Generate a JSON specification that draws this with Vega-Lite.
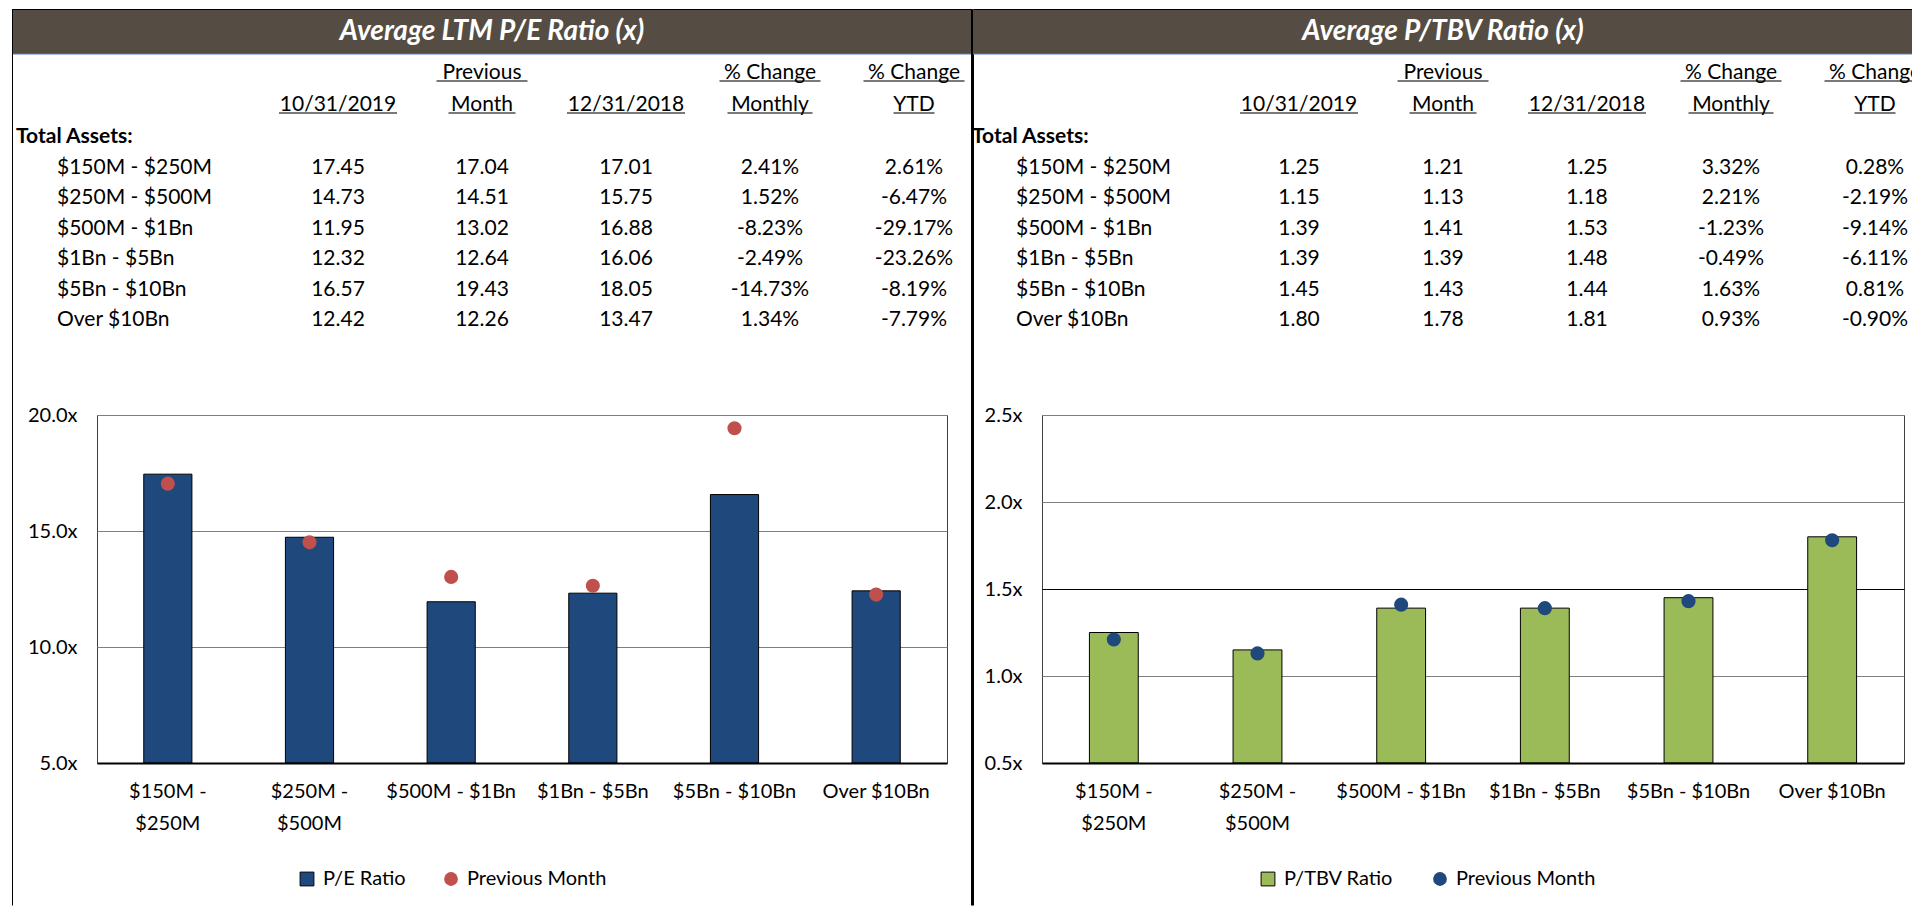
{
  "$schema": "https://vega.github.io/schema/vega-lite/v6.json",
  "padding": {"left": 9, "top": 9, "right": 0, "bottom": 0},
  "background": "white",
  "config": {
    "font": "Lato",
    "view": {"stroke": null},
    "text": {"fontSize": 21, "color": "black"},
    "axis": {"labelColor": "black", "labelFontSize": 20, "labelFont": "Lato"},
    "legend": {"labelFontSize": 20, "labelFont": "Lato", "labelColor": "black"},
    "locale": {"number": {"decimal": ".", "thousands": ",", "grouping": [3], "currency": ["$", ""], "minus": "-"}}
  },
  "datasets": {
    "pe": [
      {"cat": "$150M - $250M", "cur": 17.45, "prev": 17.04, "ye": 17.01, "mom": 0.0241, "ytd": 0.0261},
      {"cat": "$250M - $500M", "cur": 14.73, "prev": 14.51, "ye": 15.75, "mom": 0.0152, "ytd": -0.0647},
      {"cat": "$500M - $1Bn", "cur": 11.95, "prev": 13.02, "ye": 16.88, "mom": -0.0823, "ytd": -0.2917},
      {"cat": "$1Bn - $5Bn", "cur": 12.32, "prev": 12.64, "ye": 16.06, "mom": -0.0249, "ytd": -0.2326},
      {"cat": "$5Bn - $10Bn", "cur": 16.57, "prev": 19.43, "ye": 18.05, "mom": -0.1473, "ytd": -0.0819},
      {"cat": "Over $10Bn", "cur": 12.42, "prev": 12.26, "ye": 13.47, "mom": 0.0134, "ytd": -0.0779}
    ],
    "tbv": [
      {"cat": "$150M - $250M", "cur": 1.25, "prev": 1.21, "ye": 1.25, "mom": 0.0332, "ytd": 0.0028},
      {"cat": "$250M - $500M", "cur": 1.15, "prev": 1.13, "ye": 1.18, "mom": 0.0221, "ytd": -0.0219},
      {"cat": "$500M - $1Bn", "cur": 1.39, "prev": 1.41, "ye": 1.53, "mom": -0.0123, "ytd": -0.0914},
      {"cat": "$1Bn - $5Bn", "cur": 1.39, "prev": 1.39, "ye": 1.48, "mom": -0.0049, "ytd": -0.0611},
      {"cat": "$5Bn - $10Bn", "cur": 1.45, "prev": 1.43, "ye": 1.44, "mom": 0.0163, "ytd": 0.0081},
      {"cat": "Over $10Bn", "cur": 1.80, "prev": 1.78, "ye": 1.81, "mom": 0.0093, "ytd": -0.0090}
    ],
    "hdr": [
      {"col": "prev", "row": "h1", "t": "Previous"},
      {"col": "mom", "row": "h1", "t": "% Change"},
      {"col": "ytd", "row": "h1", "t": "% Change"},
      {"col": "cur", "row": "h2", "t": "10/31/2019"},
      {"col": "prev", "row": "h2", "t": "Month"},
      {"col": "ye", "row": "h2", "t": "12/31/2018"},
      {"col": "mom", "row": "h2", "t": "Monthly"},
      {"col": "ytd", "row": "h2", "t": "YTD"}
    ]
  },
  "columns": 1,
  "align": "none",
  "spacing": -504,
  "resolve": {"scale": {"color": "independent", "fill": "independent"}},
  "concat": [
    {
      "columns": 2,
      "align": "none",
      "spacing": -3,
      "concat": [
        {
          "width": 960,
          "height": 896,
          "data": {"name": "pe"},
          "resolve": {"scale": {"x": "independent", "y": "independent"}},
          "layer": [
            {
              "mark": {"type": "point", "opacity": 0},
              "encoding": {
                "x": {"datum": 0, "type": "quantitative", "scale": {"domain": [0, 1]}, "axis": {"orient": "top", "labels": false, "ticks": false, "grid": false, "title": null, "domain": true, "domainColor": "black", "domainWidth": 1, "zindex": 2}},
                "y": {"datum": 0, "type": "quantitative", "scale": {"domain": [0, 1]}, "axis": {"orient": "left", "labels": false, "ticks": false, "grid": false, "title": null, "domain": true, "domainColor": "black", "domainWidth": 1, "zindex": 2}}
              }
            },
            {
              "mark": {"type": "point", "opacity": 0},
              "encoding": {
                "y": {"datum": 0, "type": "quantitative", "scale": {"domain": [0, 1]}, "axis": {"orient": "right", "labels": false, "ticks": false, "grid": false, "title": null, "domain": true, "domainColor": "black", "domainWidth": 3, "zindex": 2}}
              }
            },
            {
              "data": {"values": [{"t": "Average LTM P/E Ratio (x)"}]},
              "encoding": {"y": {"field": "t", "type": "nominal", "scale": {"type": "band", "range": [0, 45], "paddingInner": 0, "paddingOuter": 0}, "axis": null}},
              "layer": [
                {"mark": {"type": "rect", "color": "#554D43"}},
                {"mark": {"type": "rule", "color": "#4F81BD", "strokeWidth": 1}, "encoding": {"y": {"field": "t", "type": "nominal", "bandPosition": 1, "axis": null}}},
                {"mark": {"type": "text", "color": "white", "fontSize": 28, "fontWeight": "bold", "fontStyle": "italic", "baseline": "middle"}, "encoding": {"text": {"field": "t"}}}
              ]
            },
            {
              "data": {"name": "hdr"},
              "mark": {"type": "text", "baseline": "alphabetic", "dy": -2},
              "encoding": {
                "x": {"field": "col", "type": "nominal", "scale": {"type": "point", "domain": ["cur", "prev", "ye", "mom", "ytd"], "range": [326, 902], "padding": 0}, "axis": null},
                "y": {"field": "row", "type": "nominal", "scale": {"type": "point", "domain": ["h1", "h2"], "range": [72, 104], "padding": 0}, "axis": null},
                "text": {"field": "t"}
              }
            },
            {
              "data": {"name": "hdr"},
              "mark": {"type": "tick", "orient": "horizontal", "thickness": 1.5, "color": "black"},
              "encoding": {
                "x": {"field": "col", "type": "nominal", "scale": {"type": "point", "domain": ["cur", "prev", "ye", "mom", "ytd"], "range": [326, 902], "padding": 0}, "axis": null},
                "y": {"field": "row", "type": "nominal", "scale": {"type": "point", "domain": ["h1", "h2"], "range": [72, 104], "padding": 0}, "axis": null},
                "size": {"condition": [
                  {"test": "datum.t === 'Previous'", "value": 91},
                  {"test": "datum.t === 'Month'", "value": 67},
                  {"test": "datum.t === '% Change'", "value": 101},
                  {"test": "datum.t === 'Monthly'", "value": 85},
                  {"test": "datum.t === 'YTD'", "value": 41}
                ], "value": 118}
              }
            },
            {
              "data": {"values": [{"t": "Total Assets:"}]},
              "mark": {"type": "text", "align": "left", "baseline": "middle", "fontWeight": "bold"},
              "encoding": {
                "x": {"datum": "TA", "type": "nominal", "scale": {"type": "point", "domain": ["TA", "L"], "range": [4, 45], "padding": 0}, "axis": null},
                "y": {"field": "t", "type": "nominal", "scale": {"type": "point", "domain": ["Total Assets:", "$150M - $250M", "$250M - $500M", "$500M - $1Bn", "$1Bn - $5Bn", "$5Bn - $10Bn", "Over $10Bn"], "range": [128, 311], "padding": 0}, "axis": null},
                "text": {"field": "t"}
              }
            },
            {
              "mark": {"type": "text", "align": "left", "baseline": "middle"},
              "encoding": {
                "x": {"datum": "L", "type": "nominal", "scale": {"type": "point", "domain": ["TA", "L"], "range": [4, 45], "padding": 0}, "axis": null},
                "y": {"field": "cat", "type": "nominal", "scale": {"type": "point", "domain": ["Total Assets:", "$150M - $250M", "$250M - $500M", "$500M - $1Bn", "$1Bn - $5Bn", "$5Bn - $10Bn", "Over $10Bn"], "range": [128, 311], "padding": 0}, "axis": null},
                "text": {"field": "cat"}
              }
            },
            {
              "transform": [{"fold": ["cur", "prev", "ye"], "as": ["key", "val"]}],
              "mark": {"type": "text", "baseline": "middle"},
              "encoding": {
                "x": {"field": "key", "type": "nominal", "scale": {"type": "point", "domain": ["cur", "prev", "ye", "mom", "ytd"], "range": [326, 902], "padding": 0}, "axis": null},
                "y": {"field": "cat", "type": "nominal", "scale": {"type": "point", "domain": ["Total Assets:", "$150M - $250M", "$250M - $500M", "$500M - $1Bn", "$1Bn - $5Bn", "$5Bn - $10Bn", "Over $10Bn"], "range": [128, 311], "padding": 0}, "axis": null},
                "text": {"field": "val", "type": "quantitative", "format": ".2f"}
              }
            },
            {
              "transform": [{"fold": ["mom", "ytd"], "as": ["key", "val"]}],
              "mark": {"type": "text", "baseline": "middle"},
              "encoding": {
                "x": {"field": "key", "type": "nominal", "scale": {"type": "point", "domain": ["cur", "prev", "ye", "mom", "ytd"], "range": [326, 902], "padding": 0}, "axis": null},
                "y": {"field": "cat", "type": "nominal", "scale": {"type": "point", "domain": ["Total Assets:", "$150M - $250M", "$250M - $500M", "$500M - $1Bn", "$1Bn - $5Bn", "$5Bn - $10Bn", "Over $10Bn"], "range": [128, 311], "padding": 0}, "axis": null},
                "text": {"field": "val", "type": "quantitative", "format": ".2%"}
              }
            }
          ]
        },
        {
          "width": 940,
          "height": 896,
          "data": {"name": "tbv"},
          "resolve": {"scale": {"x": "independent", "y": "independent"}},
          "layer": [
            {
              "mark": {"type": "point", "opacity": 0},
              "encoding": {
                "x": {"datum": 0, "type": "quantitative", "scale": {"domain": [0, 1]}, "axis": {"orient": "top", "labels": false, "ticks": false, "grid": false, "title": null, "domain": true, "domainColor": "black", "domainWidth": 1, "zindex": 2}}
              }
            },
            {
              "data": {"values": [{"t": "Average P/TBV Ratio (x)"}]},
              "encoding": {"y": {"field": "t", "type": "nominal", "scale": {"type": "band", "range": [0, 45], "paddingInner": 0, "paddingOuter": 0}, "axis": null}},
              "layer": [
                {"mark": {"type": "rect", "color": "#554D43"}},
                {"mark": {"type": "rule", "color": "#4F81BD", "strokeWidth": 1}, "encoding": {"y": {"field": "t", "type": "nominal", "bandPosition": 1, "axis": null}}},
                {"mark": {"type": "text", "color": "white", "fontSize": 28, "fontWeight": "bold", "fontStyle": "italic", "baseline": "middle"}, "encoding": {"text": {"field": "t"}}}
              ]
            },
            {
              "data": {"name": "hdr"},
              "mark": {"type": "text", "baseline": "alphabetic", "dy": -2, "clip": true},
              "encoding": {
                "x": {"field": "col", "type": "nominal", "scale": {"type": "point", "domain": ["cur", "prev", "ye", "mom", "ytd"], "range": [326, 902], "padding": 0}, "axis": null},
                "y": {"field": "row", "type": "nominal", "scale": {"type": "point", "domain": ["h1", "h2"], "range": [72, 104], "padding": 0}, "axis": null},
                "text": {"field": "t"}
              }
            },
            {
              "data": {"name": "hdr"},
              "mark": {"type": "tick", "orient": "horizontal", "thickness": 1.5, "color": "black", "clip": true},
              "encoding": {
                "x": {"field": "col", "type": "nominal", "scale": {"type": "point", "domain": ["cur", "prev", "ye", "mom", "ytd"], "range": [326, 902], "padding": 0}, "axis": null},
                "y": {"field": "row", "type": "nominal", "scale": {"type": "point", "domain": ["h1", "h2"], "range": [72, 104], "padding": 0}, "axis": null},
                "size": {"condition": [
                  {"test": "datum.t === 'Previous'", "value": 91},
                  {"test": "datum.t === 'Month'", "value": 67},
                  {"test": "datum.t === '% Change'", "value": 101},
                  {"test": "datum.t === 'Monthly'", "value": 85},
                  {"test": "datum.t === 'YTD'", "value": 41}
                ], "value": 118}
              }
            },
            {
              "data": {"values": [{"t": "Total Assets:"}]},
              "mark": {"type": "text", "align": "left", "baseline": "middle", "fontWeight": "bold"},
              "encoding": {
                "x": {"datum": "TA", "type": "nominal", "scale": {"type": "point", "domain": ["TA", "L"], "range": [-1, 43], "padding": 0}, "axis": null},
                "y": {"field": "t", "type": "nominal", "scale": {"type": "point", "domain": ["Total Assets:", "$150M - $250M", "$250M - $500M", "$500M - $1Bn", "$1Bn - $5Bn", "$5Bn - $10Bn", "Over $10Bn"], "range": [128, 311], "padding": 0}, "axis": null},
                "text": {"field": "t"}
              }
            },
            {
              "mark": {"type": "text", "align": "left", "baseline": "middle"},
              "encoding": {
                "x": {"datum": "L", "type": "nominal", "scale": {"type": "point", "domain": ["TA", "L"], "range": [-1, 43], "padding": 0}, "axis": null},
                "y": {"field": "cat", "type": "nominal", "scale": {"type": "point", "domain": ["Total Assets:", "$150M - $250M", "$250M - $500M", "$500M - $1Bn", "$1Bn - $5Bn", "$5Bn - $10Bn", "Over $10Bn"], "range": [128, 311], "padding": 0}, "axis": null},
                "text": {"field": "cat"}
              }
            },
            {
              "transform": [{"fold": ["cur", "prev", "ye"], "as": ["key", "val"]}],
              "mark": {"type": "text", "baseline": "middle", "clip": true},
              "encoding": {
                "x": {"field": "key", "type": "nominal", "scale": {"type": "point", "domain": ["cur", "prev", "ye", "mom", "ytd"], "range": [326, 902], "padding": 0}, "axis": null},
                "y": {"field": "cat", "type": "nominal", "scale": {"type": "point", "domain": ["Total Assets:", "$150M - $250M", "$250M - $500M", "$500M - $1Bn", "$1Bn - $5Bn", "$5Bn - $10Bn", "Over $10Bn"], "range": [128, 311], "padding": 0}, "axis": null},
                "text": {"field": "val", "type": "quantitative", "format": ".2f"}
              }
            },
            {
              "transform": [{"fold": ["mom", "ytd"], "as": ["key", "val"]}],
              "mark": {"type": "text", "baseline": "middle", "clip": true},
              "encoding": {
                "x": {"field": "key", "type": "nominal", "scale": {"type": "point", "domain": ["cur", "prev", "ye", "mom", "ytd"], "range": [326, 902], "padding": 0}, "axis": null},
                "y": {"field": "cat", "type": "nominal", "scale": {"type": "point", "domain": ["Total Assets:", "$150M - $250M", "$250M - $500M", "$500M - $1Bn", "$1Bn - $5Bn", "$5Bn - $10Bn", "Over $10Bn"], "range": [128, 311], "padding": 0}, "axis": null},
                "text": {"field": "val", "type": "quantitative", "format": ".2%"}
              }
            }
          ]
        }
      ]
    },
    {
      "spacing": 0,
      "resolve": {"scale": {"color": "independent", "fill": "independent"}},
      "hconcat": [
        {"width": 15, "height": 348, "data": {"values": [{"s": 1}]}, "mark": {"type": "point", "opacity": 0}},
        {
          "width": 850,
          "height": 348,
          "view": {"stroke": "#404040", "strokeWidth": 1},
          "data": {"name": "pe"},
          "encoding": {
            "x": {"field": "cat", "type": "nominal", "sort": null, "scale": {"paddingInner": 0.66, "paddingOuter": 0.33},
              "axis": {"title": null, "labelAngle": 0, "ticks": false, "tickSize": 0, "labelPadding": 18, "labelLineHeight": 32, "labelFontSize": 20, "domainColor": "black", "domainWidth": 2, "labelOverlap": false, "labelBound": false, "labelFlush": false, "labelLimit": 0, "zindex": 2,
                "labelExpr": "datum.value === '$150M - $250M' ? ['$150M -', '$250M'] : datum.value === '$250M - $500M' ? ['$250M -', '$500M'] : datum.label"}}
          },
          "layer": [
            {
              "mark": {"type": "bar", "stroke": "black", "strokeWidth": 1},
              "encoding": {
                "y": {"field": "cur", "type": "quantitative", "scale": {"domain": [5, 20], "zero": false, "nice": false},
                  "axis": {"title": null, "values": [5, 10, 15, 20], "labelExpr": "format(datum.value, '.1f') + 'x'", "domain": false, "ticks": false, "tickSize": 0, "labelPadding": 20, "grid": true, "gridColor": "#7F7F7F", "gridWidth": 1}},
                "y2": {"datum": 5},
                "fill": {"datum": "P/E Ratio", "type": "nominal",
                  "scale": {"domain": ["P/E Ratio"], "range": ["#1F497D"]},
                  "legend": {"title": null, "orient": "none", "legendX": 200, "legendY": 454, "symbolType": "square", "symbolSize": 190, "symbolStrokeColor": "black", "symbolStrokeWidth": 1, "labelOffset": 6, "padding": 0, "labelFontSize": 20}}
              }
            },
            {
              "mark": {"type": "point", "filled": true, "size": 200, "opacity": 1},
              "encoding": {
                "y": {"field": "prev", "type": "quantitative"},
                "color": {"datum": "Previous Month", "type": "nominal",
                  "scale": {"domain": ["Previous Month"], "range": ["#C0504D"]},
                  "legend": {"title": null, "orient": "none", "legendX": 344, "legendY": 454, "symbolType": "circle", "symbolSize": 190, "symbolStrokeWidth": 0, "labelOffset": 6, "padding": 0, "labelFontSize": 20}}
              }
            }
          ]
        },
        {"width": 35, "height": 348, "data": {"values": [{"s": 1}]}, "mark": {"type": "point", "opacity": 0}},
        {
          "width": 862,
          "height": 348,
          "view": {"stroke": "#404040", "strokeWidth": 1},
          "data": {"name": "tbv"},
          "encoding": {
            "x": {"field": "cat", "type": "nominal", "sort": null, "scale": {"paddingInner": 0.66, "paddingOuter": 0.33},
              "axis": {"title": null, "labelAngle": 0, "ticks": false, "tickSize": 0, "labelPadding": 18, "labelLineHeight": 32, "labelFontSize": 20, "domainColor": "black", "domainWidth": 2, "labelOverlap": false, "labelBound": false, "labelFlush": false, "labelLimit": 0, "zindex": 2,
                "labelExpr": "datum.value === '$150M - $250M' ? ['$150M -', '$250M'] : datum.value === '$250M - $500M' ? ['$250M -', '$500M'] : datum.label"}}
          },
          "layer": [
            {
              "mark": {"type": "bar", "stroke": "black", "strokeWidth": 1},
              "encoding": {
                "y": {"field": "cur", "type": "quantitative", "scale": {"domain": [0.5, 2.5], "zero": false, "nice": false},
                  "axis": {"title": null, "values": [0.5, 1, 1.5, 2, 2.5], "labelExpr": "format(datum.value, '.1f') + 'x'", "domain": false, "ticks": false, "tickSize": 0, "labelPadding": 20, "grid": true, "gridWidth": 1,
                    "gridColor": {"condition": {"test": "datum.value === 1.5", "value": "black"}, "value": "#7F7F7F"}}},
                "y2": {"datum": 0.5},
                "fill": {"datum": "P/TBV Ratio", "type": "nominal",
                  "scale": {"domain": ["P/TBV Ratio"], "range": ["#9BBB59"]},
                  "legend": {"title": null, "orient": "none", "legendX": 216, "legendY": 454, "symbolType": "square", "symbolSize": 190, "symbolStrokeColor": "black", "symbolStrokeWidth": 1, "labelOffset": 6, "padding": 0, "labelFontSize": 20}}
              }
            },
            {
              "mark": {"type": "point", "filled": true, "size": 200, "opacity": 1},
              "encoding": {
                "y": {"field": "prev", "type": "quantitative"},
                "color": {"datum": "Previous Month", "type": "nominal",
                  "scale": {"domain": ["Previous Month"], "range": ["#1F497D"]},
                  "legend": {"title": null, "orient": "none", "legendX": 388, "legendY": 454, "symbolType": "circle", "symbolSize": 190, "symbolStrokeWidth": 0, "labelOffset": 6, "padding": 0, "labelFontSize": 20}}
              }
            }
          ]
        }
      ]
    }
  ]
}
